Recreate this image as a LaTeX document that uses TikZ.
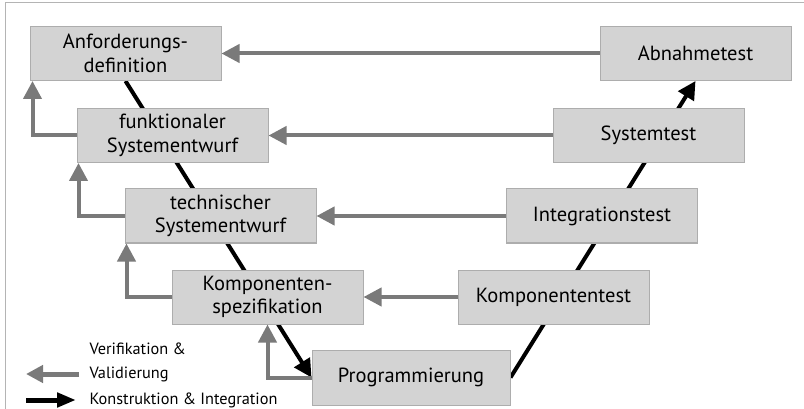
\documentclass[tikz,border=0pt]{standalone}
\usepackage{fontspec}
\setmainfont{PT Sans}
\usetikzlibrary{arrows.meta,backgrounds}
\definecolor{boxfill}{HTML}{D3D3D3}
\definecolor{boxline}{HTML}{ADADAD}
\definecolor{vvgray}{HTML}{7A7A7A}
\definecolor{framegray}{HTML}{B4B4B4}
\begin{document}
\begin{tikzpicture}[x=1pt, y=-1pt,
		font=\fontsize{20.5}{23.5}\selectfont,
		box/.style={rectangle, fill=boxfill, draw=boxline, line width=1pt,
			minimum width=191pt, minimum height=54pt, inner sep=0pt,
			align=center},
		vv/.style={draw=vvgray, line width=4pt,
			-{Triangle[length=18pt,width=18pt]}},
		ki/.style={draw=black, line width=4pt,
			-{Triangle[length=18pt,width=18pt]}},
		legtext/.style={anchor=west, font=\fontsize{16.3}{19}\selectfont}]
		\useasboundingbox (0,0) rectangle (804,409);
		\draw[framegray, line width=1pt] (5,409) -- (5,3) -- (804,3);
		% left branch
		\node[box] (anf) at (125.5,53.5) {Anforderungs-\\definition};
		\node[box] (fun) at (172.5,135.5) {funktionaler\\Systementwurf};
		\node[box] (tec) at (220.5,216) {technischer\\Systementwurf};
		\node[box] (kspec) at (267.5,297) {Komponenten-\\spezifikation};
		\node[box, minimum width=198pt, minimum height=55pt] (prog) at (411,377.5) {Programmierung};
		% right branch
		\node[box] (ktest) at (553.5,297) {Komponententest};
		\node[box] (integ) at (602,216) {Integrationstest};
		\node[box] (sys) at (648.5,135.5) {Systemtest};
		\node[box] (abn) at (695.5,53.5) {Abnahmetest};
		% construction & integration
		\begin{scope}[on background layer]
			\draw[ki] (anf.south) -- (prog.west);
			\draw[ki] (prog.east) -- (abn.south);
		\end{scope}
		% verification & validation
		\draw[vv] (abn.west) -- (anf.east);
		\draw[vv] (sys.west) -- (fun.east);
		\draw[vv] (integ.west) -- (tec.east);
		\draw[vv] (ktest.west) -- (kspec.east);
		\draw[vv] (fun.west) -| ([xshift=3pt]anf.south west);
		\draw[vv] (tec.west) -| ([xshift=2pt]fun.south west);
		\draw[vv] (kspec.west) -| ([xshift=2pt]tec.south west);
		\draw[vv] (prog.west) -| (kspec.south);
		% legend
		\coordinate (lg1a) at (79,374);
		\coordinate (lg1b) at (26,374);
		\coordinate (lg2a) at (26,400);
		\coordinate (lg2b) at (76,400);
		\draw[vv, line width=5pt, -{Triangle[length=17pt,width=17pt]}] (lg1a) -- (lg1b);
		\draw[ki, line width=5pt, -{Triangle[length=19pt,width=14pt]}] (lg2a) -- (lg2b);
		\node[legtext] (lt1) at (86,349) {Verifikation \&};
		\node[legtext] (lt2) at (86,374) {Validierung};
		\node[legtext] (lt3) at (86,400) {Konstruktion \& Integration};
		\end{tikzpicture}
\end{document}
